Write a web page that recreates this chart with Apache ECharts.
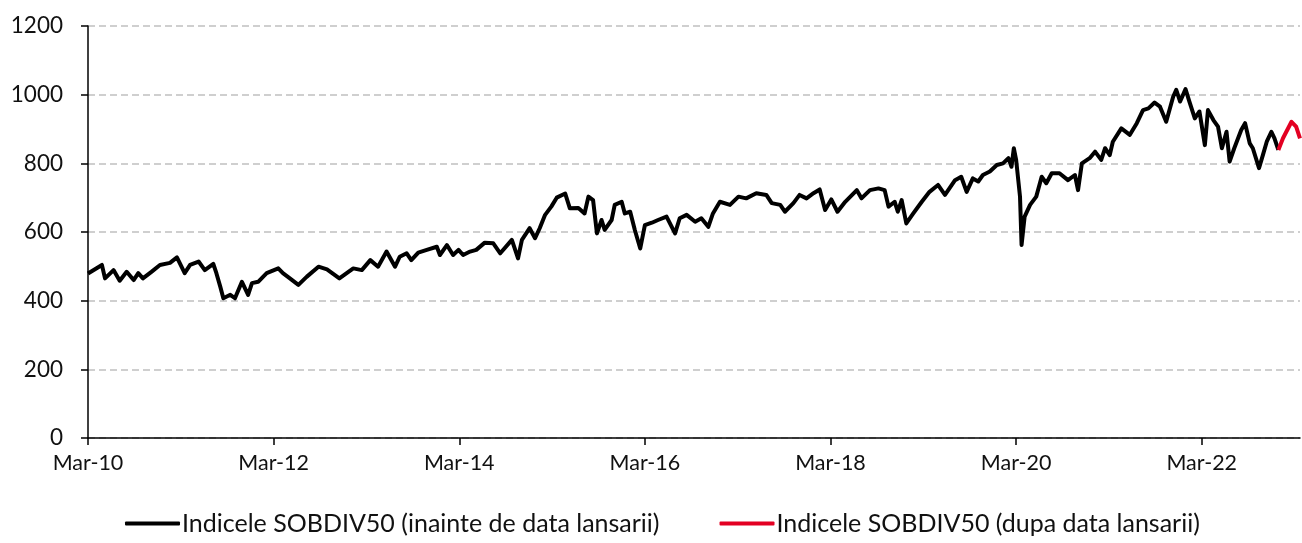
<!DOCTYPE html>
<html>
<head>
<meta charset="utf-8">
<script src="https://cdn.jsdelivr.net/npm/echarts@6/dist/echarts.min.js"></script>
<style>
  html, body { margin: 0; padding: 0; background: #fff; }
  #main { width: 1302px; height: 543px; }
</style>
</head>
<body>
<div id="main"></div>
<script>
// x = months since Mar-2010
var blackMonths = [0.0, 1.8, 2.2, 3.3, 4.1, 5.0, 5.9, 6.5, 7.1, 8.2, 9.3, 10.6, 11.5, 12.5, 13.2, 14.3, 15.1, 16.2, 16.6, 17.1,
  17.5, 18.4, 19.0, 19.9, 20.7, 21.2, 22.0, 23.1, 24.6, 25.2, 26.1, 27.2, 28.3, 29.8, 30.9, 32.5, 34.3, 35.4, 36.5, 37.5,
  38.6, 39.7, 40.3, 41.2, 41.8, 42.7, 43.8, 45.1, 45.5, 46.4, 47.2, 47.9, 48.5, 49.4, 50.2, 51.3, 52.4, 53.3, 54.8, 55.6,
  56.1, 57.1, 57.8, 58.4, 59.1, 59.9, 60.6, 61.7, 62.3, 63.4, 64.2, 64.7, 65.3, 65.8, 66.4, 66.8, 67.7, 68.1, 69.0, 69.4,
  70.1, 70.7, 71.4, 72.0, 72.9, 73.7, 74.8, 75.9, 76.5, 77.4, 78.5, 79.3, 80.2, 80.8, 81.7, 83.0, 84.1, 85.1, 86.4, 87.7,
  88.4, 89.5, 90.1, 91.2, 92.0, 92.9, 93.8, 94.6, 95.3, 96.1, 96.9, 97.9, 99.4, 100.0, 101.1, 102.2, 103.0, 103.5, 104.3, 104.7,
  105.2, 105.8, 106.7, 107.8, 108.8, 109.9, 110.8, 112.1, 112.9, 113.6, 114.4, 115.1, 115.7, 116.6, 117.5, 118.3, 119.0, 119.4, 119.7, 120.0,
  120.5, 120.7, 121.1, 121.8, 122.6, 123.3, 123.9, 124.6, 125.6, 126.7, 127.6, 128.0, 128.5, 129.5, 130.2, 131.0, 131.5, 132.1, 132.5, 133.6,
  134.7, 135.6, 136.4, 137.1, 137.9, 138.6, 139.4, 140.3, 140.7, 141.2, 141.9, 142.4, 143.1, 143.7, 144.4, 144.8, 145.5, 146.1, 146.6, 147.2,
  147.6, 148.2, 149.1, 149.6, 150.2, 150.6, 151.4, 151.9, 152.4, 153.0, 153.4, 153.9];
var blackValues = [479, 504, 465, 489, 458, 484, 460, 480, 465, 484, 504, 510, 526, 480, 504, 514, 489, 507, 480, 441,
  407, 417, 407, 455, 417, 451, 455, 480, 494, 480, 465, 446, 470, 499, 491, 465, 494, 489, 518, 499,
  543, 499, 528, 538, 518, 540, 548, 557, 533, 562, 533, 548, 533, 543, 548, 569, 567, 538, 577, 523,
  577, 611, 582, 611, 650, 674, 700, 712, 669, 670, 654, 703, 693, 596, 635, 606, 635, 679, 688, 654,
  659, 606, 552, 620, 627, 635, 645, 596, 640, 650, 630, 640, 615, 654, 688, 679, 703, 698, 713, 708,
  684, 679, 659, 684, 708, 698, 713, 724, 664, 695, 659, 688, 722, 698, 722, 727, 722, 674, 688, 659,
  693, 625, 654, 688, 717, 737, 708, 751, 761, 717, 756, 747, 766, 776, 795, 800, 815, 790, 844, 810,
  703, 562, 645, 679, 703, 761, 742, 771, 771, 751, 766, 722, 800, 815, 834, 810, 844, 824, 863, 902,
  883, 917, 955, 960, 977, 965, 921, 994, 1014, 980, 1016, 980, 931, 951, 853, 955, 926, 907, 844, 892,
  805, 844, 897, 917, 858, 844, 786, 824, 863, 892, 873, 839];
var redMonths = [153.9, 154.5, 155.6, 156.2, 156.7];
var redValues = [839, 873, 921, 907, 873];

var tickMonths = [0, 24, 48, 72, 96, 120, 144];
var seriesNames = ['Indicele SOBDIV50 (inainte de data lansarii)', 'Indicele SOBDIV50 (dupa data lansarii)'];

function pairs(xs, ys) {
  var out = [];
  for (var i = 0; i < xs.length; i++) out.push([xs[i], ys[i]]);
  return out;
}

var font = 'Lato, "Liberation Sans", sans-serif';
var chart = echarts.init(document.getElementById('main'), null, { renderer: 'canvas' });

var option = {
  animation: false,
  backgroundColor: '#fff',
  grid: { left: 88, right: 2, top: 26, bottom: 105 },
  legend: {
    bottom: 2,
    left: 120,
    itemGap: 60,
    itemWidth: 55,
    itemHeight: 4,
    icon: 'roundRect',
    textStyle: { fontFamily: font, fontSize: 25, color: '#111', padding: [0, 0, 0, -3] },
    data: seriesNames
  },
  xAxis: {
    type: 'value',
    min: 0,
    max: 156.7,
    axisLine: { lineStyle: { color: '#000', width: 1.5 } },
    axisTick: { show: true, length: 7, customValues: tickMonths, lineStyle: { color: '#000', width: 1.5 } },
    axisLabel: {
      customValues: tickMonths,
      margin: 14,
      fontFamily: font,
      fontSize: 21.5,
      color: '#111',
      formatter: function (v) {
        var yy = 10 + Math.round(v / 12);
        return 'Mar-' + (yy < 10 ? '0' + yy : yy);
      }
    },
    splitLine: { show: false }
  },
  yAxis: {
    type: 'value',
    min: 0,
    max: 1200,
    interval: 200,
    axisLine: { show: true, lineStyle: { color: '#000', width: 1.5 } },
    axisTick: { show: true, length: 7, lineStyle: { color: '#000', width: 1.5 } },
    axisLabel: {
      margin: 25, fontFamily: font, fontSize: 22.5, color: '#111',
      formatter: function (v) { return String(v); }
    },
    splitLine: { show: true, lineStyle: { color: '#c0c0c0', type: [7, 4], width: 1.5 } }
  },
  series: [
    {
      name: seriesNames[0],
      type: 'line',
      data: pairs(blackMonths, blackValues),
      showSymbol: false,
      symbol: 'none',
      color: '#000',
      lineStyle: { color: '#000', width: 4, join: 'round' }
    },
    {
      name: seriesNames[1],
      type: 'line',
      data: pairs(redMonths, redValues),
      showSymbol: false,
      symbol: 'none',
      color: '#e30022',
      lineStyle: { color: '#e30022', width: 4, join: 'round' }
    }
  ]
};
chart.setOption(option);
</script>
</body>
</html>
